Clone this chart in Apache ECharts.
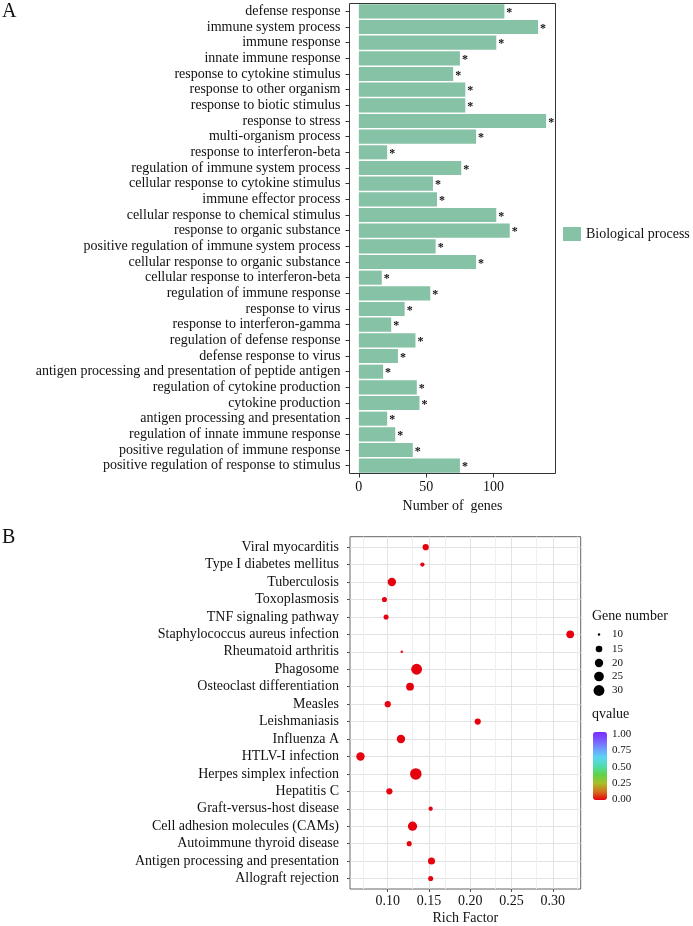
<!DOCTYPE html>
<html><head><meta charset="utf-8">
<script src="https://cdn.jsdelivr.net/npm/echarts@6/dist/echarts.min.js"></script>
<style>html,body{margin:0;padding:0;background:#fff}#c{width:693px;height:926px}</style>
</head><body><div id="c"></div>
<script>
// ---- Panel A data (top to bottom) ----
const goTerms = [
  'defense response','immune system process','immune response','innate immune response',
  'response to cytokine stimulus','response to other organism','response to biotic stimulus',
  'response to stress','multi-organism process','response to interferon-beta',
  'regulation of immune system process','cellular response to cytokine stimulus',
  'immune effector process','cellular response to chemical stimulus','response to organic substance',
  'positive regulation of immune system process','cellular response to organic substance',
  'cellular response to interferon-beta','regulation of immune response','response to virus',
  'response to interferon-gamma','regulation of defense response','defense response to virus',
  'antigen processing and presentation of peptide antigen','regulation of cytokine production',
  'cytokine production','antigen processing and presentation','regulation of innate immune response',
  'positive regulation of immune response','positive regulation of response to stimulus'
];
const goCounts = [108,133,102,75,70,79,79,139,87,21,76,55,58,102,112,57,87,17,53,34,24,42,29,18,43,45,21,27,40,75];
const goSeriesName = 'Biological process';
const xTicksA = [0,50,100];

// ---- Panel B data (top to bottom) ----
const keggPathways = [
  'Viral myocarditis','Type I diabetes mellitus','Tuberculosis','Toxoplasmosis','TNF signaling pathway',
  'Staphylococcus aureus infection','Rheumatoid arthritis','Phagosome','Osteoclast differentiation',
  'Measles','Leishmaniasis','Influenza A','HTLV-I infection','Herpes simplex infection','Hepatitis C',
  'Graft-versus-host disease','Cell adhesion molecules (CAMs)','Autoimmune thyroid disease',
  'Antigen processing and presentation','Allograft rejection'
];
const richFactor = [0.146,0.142,0.105,0.096,0.098,0.321,0.117,0.135,0.127,0.100,0.209,0.116,0.067,0.134,0.102,0.152,0.130,0.126,0.153,0.152];
const geneNumber = [14,11,20,12,12,18,10,30,18,14,14,20,20,33,14,11,23,12,16,12];
const qvalue = [0.001,0.002,0.001,0.002,0.002,0.001,0.003,0.001,0.001,0.002,0.001,0.001,0.001,0.001,0.002,0.002,0.001,0.002,0.001,0.002];
const xTicksB = [0.10,0.15,0.20,0.25,0.30];
const xMinorB = [0.075,0.125,0.175,0.225,0.275,0.325];
const sizeBreaks = [10,15,20,25,30];
const qBreaks = [1.00,0.75,0.50,0.25,0.00];

const FONT = '"Liberation Serif","Times New Roman",serif';
const TXT = '#111';
const sizeOf = g => 2.4 + 6 * Math.sqrt(Math.max(0, g - 10) / 10);

const maxA = Math.max(...goCounts);
const padA = maxA * 0.05;
const loB = Math.min(...richFactor), hiB = Math.max(...richFactor);
const padB = (hiB - loB) * 0.05;
const catIdx = keggPathways.map((_, i) => i);

const chart = echarts.init(document.getElementById('c'), null, {renderer: 'canvas'});

const graphic = [
  {type:'text', x:2, y:12, style:{text:'A', font:'20px '+FONT, fill:TXT, verticalAlign:'middle'}},
  {type:'text', x:2, y:538, style:{text:'B', font:'20px '+FONT, fill:TXT, verticalAlign:'middle'}},
  {type:'text', x:592, y:616, style:{text:'Gene number', font:'14px '+FONT, fill:TXT, verticalAlign:'middle'}},
  {type:'text', x:592, y:714, style:{text:'qvalue', font:'14px '+FONT, fill:TXT, verticalAlign:'middle'}}
];
const sizeY = [634.5, 649, 663, 676.5, 690.5];
sizeBreaks.forEach((g, i) => {
  graphic.push({type:'circle', shape:{cx:599, cy:sizeY[i], r:sizeOf(g)/2}, style:{fill:'#000'}});
  graphic.push({type:'text', x:612, y:sizeY[i], style:{text:String(g), font:'11px '+FONT, fill:TXT, verticalAlign:'middle'}});
});
qBreaks.forEach((q, i) => {
  const y = 734 + i * (799.5 - 734) / 4;
  graphic.push({type:'text', x:612, y:y, style:{text:q.toFixed(2), font:'11px '+FONT, fill:TXT, verticalAlign:'middle'}});
});

const option = {
  backgroundColor: '#fff',
  animation: false,
  textStyle: {fontFamily: FONT},
  legend: {
    data: [goSeriesName], left: 563, top: 227, padding: 0,
    icon: 'rect', itemWidth: 18, itemHeight: 14,
    textStyle: {fontFamily: FONT, fontSize: 14, color: TXT}
  },
  grid: [
    {left: 349.5, top: 3.5, width: 206, height: 470, show: true, borderColor: '#333', borderWidth: 1, backgroundColor: 'transparent', containLabel: false},
    {left: 350, top: 536.7, width: 230.7, height: 354, show: true, borderColor: '#666', borderWidth: 1, backgroundColor: 'transparent', containLabel: false}
  ],
  xAxis: [
    {type: 'value', gridIndex: 0, min: -padA, max: maxA + padA, position: 'bottom',
     name: 'Number of  genes', nameLocation: 'middle', nameGap: 22,
     nameTextStyle: {fontFamily: FONT, fontSize: 14, color: TXT},
     axisLine: {show: false, onZero: false},
     axisTick: {show: true, length: 4, customValues: xTicksA, lineStyle: {color: '#333'}},
     axisLabel: {customValues: xTicksA, margin: 7, fontFamily: FONT, fontSize: 14, color: TXT},
     splitLine: {show: false}},
    {type: 'value', gridIndex: 1, min: loB - padB, max: hiB + padB, position: 'bottom',
     name: 'Rich Factor', nameLocation: 'middle', nameGap: 22,
     nameTextStyle: {fontFamily: FONT, fontSize: 14, color: TXT},
     axisLine: {show: false, onZero: false},
     axisTick: {show: true, length: 3, customValues: xTicksB, lineStyle: {color: '#555'}},
     axisLabel: {customValues: xTicksB, margin: 5, fontFamily: FONT, fontSize: 14, color: TXT,
                 formatter: v => v.toFixed(2)},
     splitLine: {show: true, lineStyle: {color: '#e3e3e3', width: 1}}}
  ],
  yAxis: [
    {type: 'category', gridIndex: 0, data: goTerms, inverse: true, position: 'left',
     axisLine: {show: false, onZero: false},
     axisTick: {show: true, length: 4, alignWithLabel: true, lineStyle: {color: '#333'}},
     axisLabel: {margin: 9, fontFamily: FONT, fontSize: 14, color: TXT, interval: 0},
     splitLine: {show: false}},
    {type: 'value', gridIndex: 1, min: -0.6, max: keggPathways.length - 1 + 0.6, inverse: true, position: 'left',
     axisLine: {show: false, onZero: false},
     axisTick: {show: true, length: 3, customValues: catIdx, lineStyle: {color: '#555'}},
     axisLabel: {customValues: catIdx, margin: 11, fontFamily: FONT, fontSize: 14, color: TXT,
                 formatter: v => keggPathways[Math.round(v)] || ''},
     splitLine: {show: true, lineStyle: {color: '#e3e3e3', width: 1}}}
  ],
  visualMap: {
    type: 'continuous', min: 0, max: 1, dimension: 3, seriesIndex: 1,
    orient: 'vertical', left: 578, top: 717, itemWidth: 14, itemHeight: 68,
    calculable: false, realtime: false, hoverLink: false,
    inRange: {color: ['#E6000E','#D2731C','#A6C12A','#5ED34A','#4EDDB0','#5CD6F2','#6E9CFF','#7A5CFF','#7B2BFF']},
    textStyle: {fontSize: 1, color: 'transparent'}
  },
  series: [
    {type: 'bar', name: goSeriesName, xAxisIndex: 0, yAxisIndex: 0, data: goCounts,
     barWidth: '90%', itemStyle: {color: '#86C2A5'},
     label: {show: true, position: 'right', distance: 2, formatter: '*', fontSize: 12, fontWeight: 'bold',
             color: '#111', fontFamily: FONT, offset: [0, 1.5]}},
    {type: 'scatter', name: 'KEGG', xAxisIndex: 1, yAxisIndex: 1, z: 3,
     data: richFactor.map((x, i) => [x, i, geneNumber[i], qvalue[i]]),
     symbol: 'circle', symbolSize: v => sizeOf(v[2]), itemStyle: {opacity: 1},
     markLine: {silent: true, symbol: 'none', z: 1, label: {show: false}, animation: false,
                lineStyle: {color: '#efefef', type: 'solid', width: 1},
                emphasis: {disabled: true},
                data: xMinorB.map(v => ({xAxis: v}))}}
  ],
  graphic: graphic
};
chart.setOption(option);
</script>
</body></html>
